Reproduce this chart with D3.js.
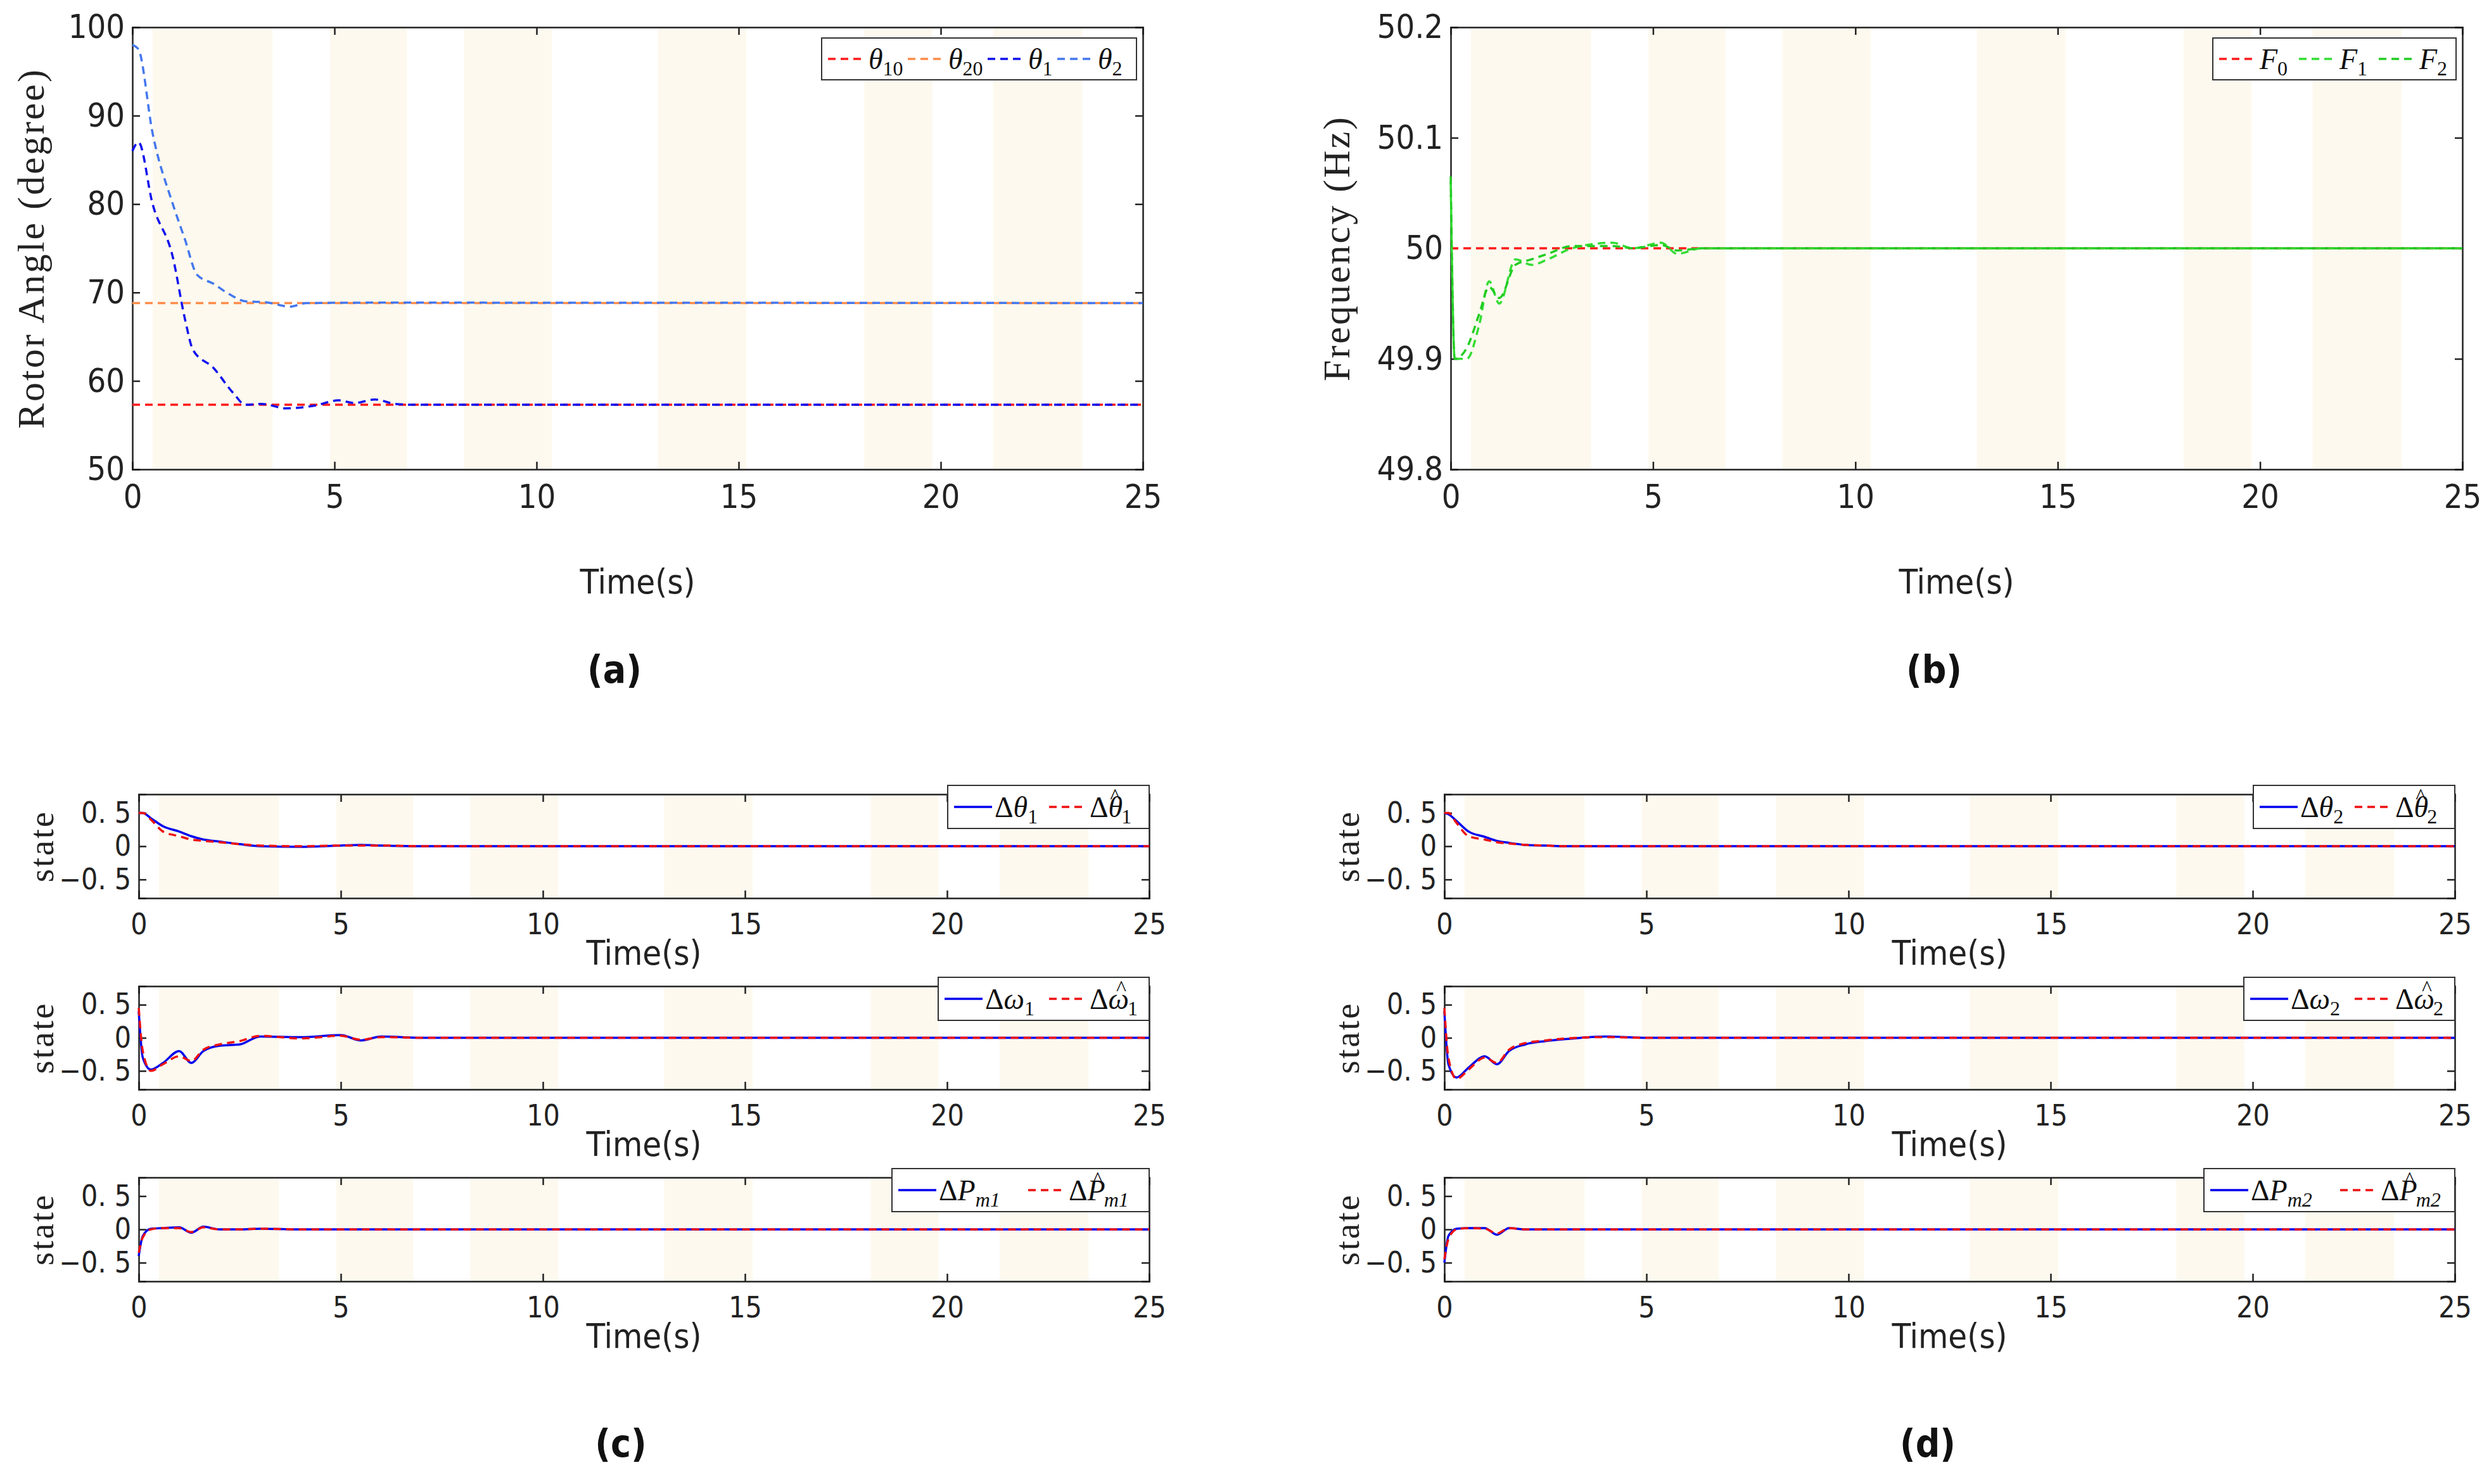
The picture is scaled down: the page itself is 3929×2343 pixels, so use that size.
<!DOCTYPE html>
<html><head><meta charset="utf-8">
<script src="https://cdn.jsdelivr.net/npm/d3@7"></script>
<style>body{margin:0;background:#fff}</style></head>
<body><svg width="3929" height="2343"></svg>
<script>
// shaded intervals (s)
var bands = [[0.5,3.47],[4.89,6.79],[8.2,10.38],[13.0,15.19],[18.11,19.79],[21.3,23.5]];
var xTicks = [0,5,10,15,20,25];
var stateTicks = [-0.5,0,0.5];
var stateTickLabels = ["\u22120. 5","0","0. 5"];

// (a) rotor angle
var tA = [0,0.15,0.5,1,1.3,1.5,2,2.5,2.8,3.2,3.8,4.5,5.1,5.5,6,6.5,7,25];
var theta1 = [86,87,80,74,67,63.5,61.5,58.6,57.3,57.4,56.9,57.2,57.8,57.5,57.9,57.4,57.3,57.3];
var tA2 = [0,0.15,0.5,1,1.3,1.6,2,2.4,2.8,3.3,3.9,4.3,6,25];
var theta2 = [98,97.5,88,80,76,72,71,69.8,69,68.9,68.4,68.8,68.85,68.8];
var theta10 = 57.3, theta20 = 68.8;

// (b) frequency
var tB = [0,0.1,0.4,0.7,0.95,1.2,1.6,2,2.4,3,4,4.5,5.2,5.6,6.2,25];
var f1 = [50.06,49.9,49.9,49.93,49.97,49.95,49.99,49.985,49.99,50,50.005,50,50.005,49.995,50,50];
var f2 = [50.065,49.9,49.91,49.94,49.965,49.955,49.985,49.99,49.995,50.002,50.002,50,50.003,49.998,50,50];

// (c)/(d) states
var tS = [0,0.1,0.3,0.6,1,1.3,1.6,2,2.5,3,4,5,5.5,6,7,25];
var dth1  = [0.5,0.5,0.42,0.3,0.22,0.15,0.1,0.07,0.03,0.0,-0.01,0.01,0.02,0.01,0,0];
var dth1h = [0.5,0.5,0.4,0.22,0.15,0.1,0.08,0.06,0.03,0.01,0,0.01,0.01,0.01,0,0];
var dw1  = [0.4,-0.3,-0.48,-0.38,-0.2,-0.38,-0.2,-0.12,-0.1,0.02,0.01,0.04,-0.04,0.02,0,0];
var dw1h = [0.45,-0.2,-0.5,-0.4,-0.28,-0.35,-0.18,-0.1,-0.05,0.03,-0.01,0.03,-0.03,0.01,0,0];
var dp1  = [-0.4,-0.1,0.01,0.02,0.03,-0.05,0.04,0,0,0.01,0,0,0,0,0,0];
var dp1h = [-0.35,-0.12,0.0,0.02,0.02,-0.04,0.03,0,0,0.01,0,0,0,0,0,0];
var dth2  = [0.5,0.48,0.38,0.22,0.14,0.08,0.05,0.02,0.01,0,0,0,0,0,0,0];
var dth2h = [0.5,0.5,0.35,0.15,0.1,0.06,0.04,0.02,0.01,0,0,0,0,0,0,0];
var dw2  = [0.4,-0.4,-0.6,-0.45,-0.28,-0.4,-0.2,-0.1,-0.05,-0.02,0.02,0,0,0,0,0];
var dw2h = [0.45,-0.3,-0.62,-0.48,-0.3,-0.38,-0.18,-0.08,-0.04,-0.01,0.01,0,0,0,0,0];
var dp2  = [-0.5,-0.1,0.01,0.02,0.02,-0.08,0.02,0,0,0,0,0,0,0,0,0];
var dp2h = [-0.45,-0.15,0.0,0.02,0.01,-0.06,0.02,0,0,0,0,0,0,0,0,0];

var svg = d3.select("svg");
var numFont = "'DejaVu Sans Condensed','Liberation Sans Narrow',sans-serif";
var serif = "'Liberation Serif','DejaVu Serif',serif";

function zip(t, v){ return t.map(function(d,i){return [d, v[i]];}); }

function panel(o) {
  var x = d3.scaleLinear().domain([0,25]).range([o.L,o.R]);
  var y = d3.scaleLinear().domain(o.yd).range([o.B,o.T]);
  var g = svg.append("g");
  g.selectAll(".band").data(bands).enter().append("rect")
    .attr("x", function(d){return x(d[0]);}).attr("width", function(d){return x(d[1])-x(d[0]);})
    .attr("y", o.T).attr("height", o.B-o.T).attr("fill", "#fdf9ee");
  g.append("g").attr("transform","translate(0,"+o.B+")")
    .call(d3.axisBottom(x).tickValues(xTicks).tickSize(-12).tickPadding(24));
  g.append("g").attr("transform","translate("+o.L+",0)")
    .call(d3.axisLeft(y).tickValues(o.yt).tickFormat(o.yf || d3.format("")).tickSize(-12).tickPadding(12));
  g.append("g").attr("transform","translate("+o.R+",0)")
    .call(d3.axisRight(y).tickValues(o.yt).tickSize(-12).tickFormat(""));
  g.append("g").attr("transform","translate(0,"+o.T+")")
    .call(d3.axisTop(x).tickValues(xTicks).tickSize(-12).tickFormat(""));
  g.selectAll(".domain").attr("stroke","#222").attr("stroke-width",2.5);
  g.selectAll(".tick line").attr("stroke","#222").attr("stroke-width",2.5);
  g.selectAll(".tick text").attr("font-family",numFont).attr("font-size",o.fs||48).attr("fill","#222");
  var line = d3.line().x(function(d){return x(d[0]);}).y(function(d){return y(d[1]);}).curve(d3.curveMonotoneX);
  o.series.forEach(function(s){
    g.append("path").datum(s.d).attr("d", line).attr("fill","none")
      .attr("stroke", s.c).attr("stroke-width", 3.5).attr("stroke-dasharray", s.dash ? "12,8" : null);
  });
  g.append("text").attr("x",(o.L+o.R)/2).attr("y",o.B+o.xlY).attr("text-anchor","middle")
    .attr("font-family",numFont).attr("font-size",54).attr("fill","#222").text("Time(s)");
  g.append("text").attr("transform","translate("+(o.L-o.ylX)+","+((o.T+o.B)/2)+") rotate(-90)")
    .attr("text-anchor","middle").attr("font-family",serif).attr("font-size",o.ylFs||52)
    .attr("letter-spacing", o.ls||0).attr("fill","#222").text(o.yl);
  // legend
  var lg = g.append("g");
  lg.append("rect").attr("x",o.lx).attr("y",o.ly).attr("width",o.R+o.lr-o.lx).attr("height",o.lh)
    .attr("fill","#fff").attr("stroke","#333").attr("stroke-width",2);
  var cx = o.lx + 10;
  o.legend.forEach(function(it){
    lg.append("line").attr("x1",cx).attr("x2",cx+60).attr("y1",o.ly+o.lh/2).attr("y2",o.ly+o.lh/2)
      .attr("stroke",it.c).attr("stroke-width",3.5).attr("stroke-dasharray",it.dash?"12,8":null);
    var t = lg.append("text").attr("x",cx+64).attr("y",o.ly+o.lh/2+16)
      .attr("font-family",serif).attr("font-size",46).attr("fill","#111");
    if (it.d) t.append("tspan").text("Δ");
    t.append("tspan").attr("font-style","italic").text(it.m);
    if (it.hat) t.append("tspan").attr("font-size",34).attr("dx",-20).attr("dy",-22).text("^");
    t.append("tspan").attr("font-size",32).attr("dx", it.hat?2:0).attr("dy",it.hat?32:10)
      .attr("font-style",it.subIt?"italic":null).text(it.s);
    cx += it.w;
  });
}

function rootLabel(txt, x, y){
  svg.append("text").attr("x",x).attr("y",y).attr("text-anchor","middle")
    .attr("font-family",numFont).attr("font-size",60).attr("font-weight","bold").attr("fill","#111").text(txt);
}

panel({L:209,R:1804,T:43,B:741,yd:[50,100],yt:[50,60,70,80,90,100],xlY:196,ylX:140,
  yl:"Rotor Angle (degree)",fs:52,ylFs:60,ls:3,
  series:[{d:zip([0,25],[theta10,theta10]),c:"#ff1a1a",dash:1},{d:zip([0,25],[theta20,theta20]),c:"#ff8c4a",dash:1},
          {d:zip(tA,theta1),c:"#1010ee",dash:1},{d:zip(tA2,theta2),c:"#4477ee",dash:1}],
  lx:1297,ly:60,lh:66,lr:-10,
  legend:[{c:"#ff1a1a",dash:1,m:"θ",s:"10",w:126},{c:"#ff8c4a",dash:1,m:"θ",s:"20",w:126},
          {c:"#1010ee",dash:1,m:"θ",s:"1",w:110},{c:"#4477ee",dash:1,m:"θ",s:"2",w:110}]});
panel({L:2290,R:3887,T:43,B:741,yd:[49.8,50.2],yt:[49.8,49.9,50,50.1,50.2],yf:d3.format(""),xlY:196,ylX:160,
  yl:"Frequency (Hz)",fs:52,ylFs:60,ls:3,
  series:[{d:zip([0,25],[50,50]),c:"#ff1a1a",dash:1},{d:zip(tB,f1),c:"#33dd33",dash:1},{d:zip(tB,f2),c:"#22cc22",dash:1}],
  lx:3493,ly:60,lh:66,lr:-10,
  legend:[{c:"#ff1a1a",dash:1,m:"F",s:"0",w:126},{c:"#33dd33",dash:1,m:"F",s:"1",w:126},{c:"#22cc22",dash:1,m:"F",s:"2",w:126}]});
rootLabel("(a)", 970, 1078);
rootLabel("(b)", 3053, 1078);

var subTops = [[1254,1418],[1557,1720],[1859,2023]];
function statePanels(L,R,sets){
  sets.forEach(function(s,i){
    panel({L:L,R:R,T:subTops[i][0],B:subTops[i][1],yd:[-0.78,0.78],yt:stateTicks,
      yf:function(d){return stateTickLabels[stateTicks.indexOf(d)];},
      xlY:105,ylX:135,yl:"state",ylFs:54,ls:3,fs:46,
      series:[{d:zip(tS,s.a),c:"#0000ee"},{d:zip(tS,s.b),c:"#ee1111",dash:1}],
      lx:R-s.lw,ly:subTops[i][0]-14,lh:68,lr:0,
      legend:[{c:"#0000ee",d:1,m:s.m,s:s.s,subIt:s.si,w:s.w1},{c:"#ee1111",dash:1,d:1,hat:1,m:s.m,s:s.s,subIt:s.si,w:200}]});
  });
}
statePanels(219,1814,[
  {a:dth1,b:dth1h,m:"θ",s:"1",lw:318,w1:150},
  {a:dw1,b:dw1h,m:"ω",s:"1",lw:333,w1:165},
  {a:dp1,b:dp1h,m:"P",s:"m1",si:1,lw:406,w1:205}]);
statePanels(2280,3875,[
  {a:dth2,b:dth2h,m:"θ",s:"2",lw:318,w1:150},
  {a:dw2,b:dw2h,m:"ω",s:"2",lw:333,w1:165},
  {a:dp2,b:dp2h,m:"P",s:"m2",si:1,lw:396,w1:205}]);
rootLabel("(c)", 980, 2300);
rootLabel("(d)", 3043, 2300);
</script></body></html>
